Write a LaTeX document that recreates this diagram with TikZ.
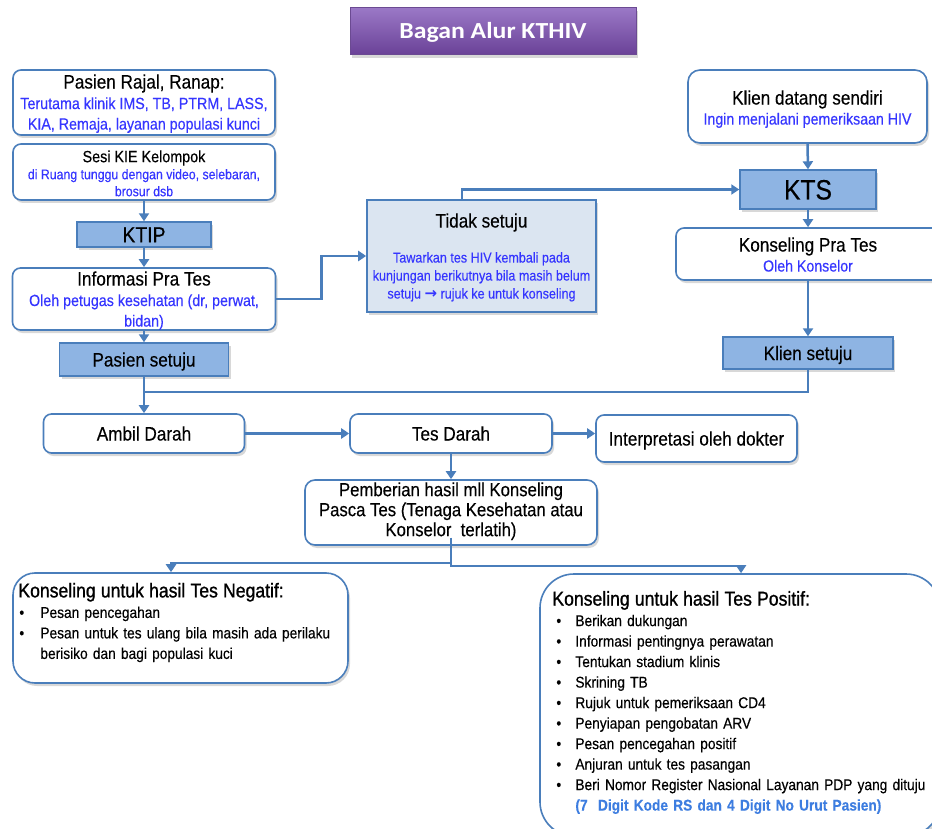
\documentclass[tikz,border=0pt]{standalone}
\usepackage{fontspec}
\setmainfont{Liberation Sans}[FakeStretch=0.88,FakeBold=0.3]
\newfontfamily\semib{Liberation Sans}[FakeStretch=0.88,FakeBold=1]
\newfontfamily\titlef{Carlito}[FakeStretch=1.12]
\newfontfamily\symf{DejaVu Sans}
\usetikzlibrary{shadows,arrows.meta}
\definecolor{bord}{HTML}{4A7EBB}
\definecolor{fillb}{HTML}{8EB4E3}
\definecolor{fillt}{HTML}{DBE5F1}
\definecolor{tblue}{HTML}{3535FF}
\definecolor{lblue}{HTML}{3D7DE0}
\definecolor{ptop}{HTML}{9A78C6}
\definecolor{pbot}{HTML}{6A4197}
\definecolor{pdraw}{HTML}{6B4A92}
\newcommand{\bulA}{\makebox[22pt][l]{\hspace{1pt}\textbullet}}
\newcommand{\bulB}{\makebox[23pt][l]{\hspace{4pt}\textbullet}}
\newcommand{\tightsp}{\spaceskip=3.2pt plus 1pt minus 0.5pt\relax}
\begin{document}
\begin{tikzpicture}[x=1pt,y=-1pt,
  shad/.style={drop shadow={shadow xshift=2pt,shadow yshift=-3pt,opacity=.3}},
  box/.style={draw=bord, line width=1.6pt, fill=white, rounded corners=8pt, inner sep=0pt, shad},
  fbox/.style={draw=bord, line width=1.4pt, fill=fillb, inner sep=0pt, shad},
  tbox/.style={draw=bord, line width=1.6pt, fill=fillt, inner sep=0pt, shad},
  txt/.style={inner sep=0pt, align=center},
  one/.style={text height=#1, text depth=0pt},
  tt/.style={font=\fontsize{19.5}{20.5}\selectfont, one=14pt},
  listfont/.style={font=\fontsize{15.6}{20.5}\selectfont\tightsp},
  conn/.style={draw=bord, line width=2.5pt},
  arr/.style={conn, -{Triangle[length=8pt,width=10pt]}}
]
\fill[white] (0,0) rectangle (932,829);
\useasboundingbox (0,0) rectangle (932,829);

% title
\node[draw=pdraw, line width=1pt, top color=ptop, bottom color=pbot, inner sep=0pt,
  minimum width=286pt, minimum height=47pt, shad, text=white,
  font=\titlef\bfseries\fontsize{23}{23}\selectfont, one=14.8pt] (title) at (493,31.5) {Bagan Alur KTHIV};

% left column
\node[box, minimum width=262pt, minimum height=65pt] (pasien) at (144,102.5) {};
\node[txt, anchor=north, font=\fontsize{16.2}{20.5}\selectfont] (pasien-t) at ([yshift=-5pt]pasien.north)
  {{\fontsize{19.5}{20.5}\selectfont Pasien Rajal, Ranap:}\\
   \textcolor{tblue}{Terutama klinik IMS, TB, PTRM, LASS,}\\
   \textcolor{tblue}{KIA, Remaja, layanan populasi kunci}};

\node[box, minimum width=262pt, minimum height=56pt] (sesi) at (144,172) {};
\node[txt, anchor=north, font=\fontsize{14}{17}\selectfont] (sesi-t) at ([yshift=-7pt]sesi.north)
  {{\fontsize{16.3}{17}\selectfont Sesi KIE Kelompok}\\
   \textcolor{tblue}{di Ruang tunggu dengan video, selebaran,}\\
   \textcolor{tblue}{brosur dsb}};

\node[fbox, minimum width=134pt, minimum height=25pt, font=\fontsize{22}{22}\selectfont, one=15.8pt] (ktip) at (144,234.5) {KTIP};

\node[box, minimum width=263pt, minimum height=62pt] (info) at (144,299) {};
\node[txt, anchor=north, font=\fontsize{16.2}{20.5}\selectfont] (info-t) at ([yshift=-4pt]info.north)
  {{\fontsize{19.5}{20.5}\selectfont Informasi Pra Tes}\\
   \textcolor{tblue}{Oleh petugas kesehatan (dr, perwat,}\\
   \textcolor{tblue}{bidan)}};

\node[fbox, minimum width=169pt, minimum height=33pt, tt] (psetuju) at (144,359.5) {Pasien setuju};

% tidak setuju
\node[tbox, minimum width=229pt, minimum height=112pt] (tidak) at (481.5,256) {};
\node[txt, anchor=north, font=\fontsize{14.3}{18}\selectfont] (tidak-t) at ([yshift=-14pt]tidak.north)
  {{\fontsize{19.5}{18}\selectfont Tidak setuju}\\[17pt]
   \textcolor{tblue}{Tawarkan tes HIV kembali pada}\\
   \textcolor{tblue}{kunjungan berikutnya bila masih belum}\\
   \textcolor{tblue}{setuju {\symf\bfseries\fontsize{15}{15}\selectfont →} rujuk ke untuk konseling}};

% right column
\node[box, rounded corners=12pt, minimum width=239pt, minimum height=73pt] (klien) at (807.5,106.5) {};
\node[txt, anchor=north, font=\fontsize{16.1}{20}\selectfont] (klien-t) at ([yshift=-21pt]klien.north)
  {{\fontsize{19.5}{20}\selectfont Klien datang sendiri}\\
   \textcolor{tblue}{Ingin menjalani pemeriksaan HIV}};

\node[fbox, minimum width=136pt, minimum height=39pt, font=\fontsize{28}{28}\selectfont, one=20pt] (kts) at (808,189.5) {KTS};

\node[box, minimum width=264pt, minimum height=52pt] (kpra) at (808,254) {};
\node[txt, anchor=north, font=\fontsize{16.1}{20}\selectfont] (kpra-t) at ([yshift=-10pt]kpra.north)
  {{\fontsize{19.5}{20}\selectfont Konseling Pra Tes}\\
   \textcolor{tblue}{Oleh Konselor}};

\node[fbox, minimum width=170pt, minimum height=32pt, tt] (ksetuju) at (808,353) {Klien setuju};

% middle row
\node[box, minimum width=201pt, minimum height=39pt, tt] (ambil) at (144,433.5) {Ambil Darah};
\node[box, minimum width=202pt, minimum height=39pt, tt] (tes) at (451,433.5) {Tes Darah};
\node[box, minimum width=201pt, minimum height=47pt, tt] (interp) at (696.5,438.5) {Interpretasi oleh dokter};

\node[box, rounded corners=10pt, minimum width=292pt, minimum height=65pt] (pemb) at (451,512.5) {};
\node[txt, anchor=north, font=\fontsize{19}{20}\selectfont] (pemb-t) at ([yshift=-3pt]pemb.north)
  {Pemberian hasil mll Konseling\\
   Pasca Tes (Tenaga Kesehatan atau\\
   Konselor\ \ terlatih)};

% bottom boxes
\node[box, rounded corners=22pt, minimum width=335pt, minimum height=110pt] (neg) at (180.5,628) {};
\node[anchor=north west, inner sep=0pt, text width=330pt, align=left, listfont] (neg-t) at ([xshift=6pt,yshift=-10.5pt]neg.north west)
  {{\semib\fontsize{20}{20.5}\selectfont Konseling untuk hasil Tes Negatif:}\\
   \bulA Pesan pencegahan\\
   \bulA Pesan untuk tes ulang bila masih ada perilaku\\
   \hspace*{22pt}berisiko dan bagi populasi kuci};

\node[box, rounded corners=34pt, minimum width=400pt, minimum height=262pt] (pos) at (740,705) {};
\node[anchor=north west, inner sep=0pt, text width=392pt, align=left, listfont] (pos-t) at ([xshift=13pt,yshift=-17.7pt]pos.north west)
  {{\semib\fontsize{20}{20.5}\selectfont Konseling untuk hasil Tes Positif:}\\
   \bulB Berikan dukungan\\
   \bulB Informasi pentingnya perawatan\\
   \bulB Tentukan stadium klinis\\
   \bulB Skrining TB\\
   \bulB Rujuk untuk pemeriksaan CD4\\
   \bulB Penyiapan pengobatan ARV\\
   \bulB Pesan pencegahan positif\\
   \bulB Anjuran untuk tes pasangan\\
   \bulB Beri Nomor Register Nasional Layanan PDP yang dituju\\
   \hspace*{23pt}{\color{lblue}\bfseries (7\ \ Digit Kode RS dan 4 Digit No Urut Pasien)}};

% connectors
\draw[arr] (sesi.south) -- (ktip.north);
\draw[arr] (ktip.south) -- (info.north);
\draw[arr] (info.south) -- (psetuju.north);
\draw[arr] (info.east) -- ++(45,0) |- (tidak.west);
\draw[arr] ([xshift=-19.5pt]tidak.north) |- (kts.west);
\draw[arr] (klien.south) -- (kts.north);
\draw[arr] (kts.south) -- (kpra.north);
\draw[arr] (kpra.south) -- (ksetuju.north);
\coordinate (join) at (144,392);
\draw[conn] (ksetuju.south) |- (join);
\draw[arr] (psetuju.south) -- (ambil.north);
\draw[arr] (ambil.east) -- (tes.west);
\draw[arr] (tes.east) -- (tes.east -| interp.west);
\draw[arr] (tes.south) -- (pemb.north);
\draw[arr] ([yshift=8pt]pemb.south) -- ++(0,25) -| ([xshift=-9.5pt]neg.north);
\draw[arr] ([yshift=8pt]pemb.south) -- ++(0,28) -| ([xshift=1pt]pos.north);
\end{tikzpicture}
\end{document}
